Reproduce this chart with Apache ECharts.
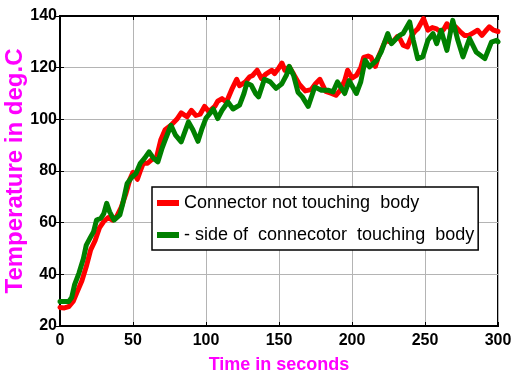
<!DOCTYPE html>
<html><head><meta charset="utf-8">
<script src="https://cdn.jsdelivr.net/npm/echarts@6/dist/echarts.min.js"></script>
<style>html,body{margin:0;padding:0;background:#fff}#c{width:513px;height:381px}</style>
</head><body><div id="c"></div>
<script>
const xTicks = [0, 50, 100, 150, 200, 250, 300];
const yTicks = [20, 40, 60, 80, 100, 120, 140];
const seriesNames = ['Connector not touching  body', '- side of  connecotor  touching  body'];

const redTime = [0,3,6,9,12,15,18,21,24,27,30,33,36,39,42,45,48,50,53,55,57,60,63,66,69,72,76,80,83,87,90,93,96,99,102,106,108,111,114,118,121,123,127,130,132,135,138,141,145,147,150,152,154,157,160,164,168,172,175,178,182,186,189,192,195,197,200,203,206,208,211,213,216,218,220,223,226,228,231,233,235,238,241,243,245,247,249,252,255,258,261,263,265,268,271,274,277,280,283,286,289,292,294,297,300];
const redTemp = [27.2,27,27.5,29.5,33.5,37.5,43,49.5,53,58,60.5,62,61,62.5,66,71,77,79.5,76.8,80,83,83,84.5,85,92,96,97.7,100,102.5,101,103.5,101.5,102,105,103,105,107,108,106.7,112,115.5,113,114.5,116.5,117,119,115.8,117.5,119,117.7,120,121.8,119,120.3,117.5,113.5,111,111.5,113.8,115.5,110.8,110,109.3,111.3,115,119,116,117,120,124,124.5,124,120.5,124,126.7,130.6,130,130,132,131,128.7,128,132.5,134,135,137,139,134.5,135.5,135,133.8,135,137,134.5,135.8,134,132.5,132.5,133.5,134.5,132.5,134.5,135.8,134.5,134];

const greenTime = [0,3,6,8,10,13,16,18,21,23,25,28,30,32,34,37,41,43,46,49,52,55,58,61,64,67,70,72,76,79,83,88,91,94.5,97,100,103,105,108,111,115,118.5,123,126,128,131,134,136,140,144,148,152,155,157,160,163,166,170,174.5,179,183.5,187,190,195,198,203,206,209,212,217,220,224.5,227,232.5,235,239.5,242,245,248.5,252,255.5,258,261,265,269,272.5,276,280.5,285,291,295.5,299,300];
const greenTemp = [29.5,29.5,29.5,31,36,40.5,46,51.3,54.5,56.5,61,61.7,63.5,67.5,64.2,61,63,67.4,75.2,77.5,79,83,85,87.4,85,83.5,89,92,97.7,94,91.3,99,96,91.5,96,100.5,102.5,104,100.3,103.5,106.7,104,105.5,110,114,113.2,110,108.7,115.5,114.5,112,113.8,117,120.5,117,110.5,108.7,105,112.5,111.3,111.3,110.6,114.5,110,115,110,114.5,122.9,120.3,122.9,126.1,133.2,129.3,132.5,133.2,137.7,130.6,123.5,124.2,130.6,133.2,129.3,134.5,126.7,138.3,130.6,124.2,131.3,126.1,123.5,129.9,130.6,130];

const pairs = (t, v) => t.map((x, i) => [x, v[i]]);
const font = '"Liberation Sans", Arial, Helvetica, sans-serif';

const chart = echarts.init(document.getElementById('c'), null, {renderer: 'canvas'});
chart.setOption({
  animation: false,
  backgroundColor: '#fff',
  grid: {left: 60, right: 15, top: 16, bottom: 55, containLabel: false, outerBoundsMode: 'none',
         show: true, borderColor: '#000', borderWidth: 2, backgroundColor: '#fff'},
  legend: {
    orient: 'vertical', left: 152, top: 187,
    data: seriesNames,
    icon: 'rect', itemWidth: 22, itemHeight: 6, itemGap: 10,
    padding: [5, 4, 4, 5],
    backgroundColor: '#fff', borderColor: '#000', borderWidth: 1.5, borderRadius: 0,
    textStyle: {fontFamily: font, fontSize: 18, color: '#000', lineHeight: 22}
  },
  xAxis: [{
    type: 'value', min: xTicks[0], max: xTicks[xTicks.length - 1], interval: 50,
    name: 'Time in seconds', nameLocation: 'middle', nameGap: 30, nameMoveOverlap: false,
    nameTextStyle: {color: '#ff00ff', fontFamily: font, fontWeight: 'bold', fontSize: 18},
    axisLine: {show: true, lineStyle: {color: '#000', width: 2}},
    axisTick: {show: true, inside: true, length: 4, lineStyle: {color: '#000', width: 1}},
    axisLabel: {color: '#000', fontFamily: font, fontWeight: 'bold', fontSize: 16, margin: 7},
    splitLine: {show: true, lineStyle: {color: '#b4b4b4', width: 1}}
  }, {
    type: 'value', position: 'top', min: 0, max: 300, interval: 50,
    axisLine: {show: true, lineStyle: {color: '#000', width: 2}},
    axisTick: {show: true, inside: true, length: 4, lineStyle: {color: '#000'}},
    axisLabel: {show: false}, splitLine: {show: false}
  }],
  yAxis: [{
    type: 'value', min: yTicks[0], max: yTicks[yTicks.length - 1], interval: 20,
    name: 'Temperature in deg.C', nameLocation: 'middle', nameGap: 33, nameMoveOverlap: false,
    nameTextStyle: {color: '#ff00ff', fontFamily: font, fontWeight: 'bold', fontSize: 24},
    axisLine: {show: true, lineStyle: {color: '#000', width: 2}},
    axisTick: {show: true, inside: true, length: 4, lineStyle: {color: '#000'}},
    axisLabel: {color: '#000', fontFamily: font, fontWeight: 'bold', fontSize: 16, margin: 3},
    splitLine: {show: true, lineStyle: {color: '#b4b4b4', width: 1}}
  }, {
    type: 'value', position: 'right', min: 20, max: 140, interval: 20,
    axisLine: {show: true, lineStyle: {color: '#000', width: 2}},
    axisTick: {show: true, inside: true, length: 4, lineStyle: {color: '#000'}},
    axisLabel: {show: false}, splitLine: {show: false}
  }],
  series: [
    {name: seriesNames[0], type: 'line', data: pairs(redTime, redTemp), showSymbol: false, symbol: 'none',
     color: '#ff0000', lineStyle: {color: '#ff0000', width: 5, join: 'round', cap: 'round'}},
    {name: seriesNames[1], type: 'line', data: pairs(greenTime, greenTemp), showSymbol: false, symbol: 'none',
     color: '#008000', lineStyle: {color: '#008000', width: 5, join: 'round', cap: 'round'}}
  ]
});
</script></body></html>
